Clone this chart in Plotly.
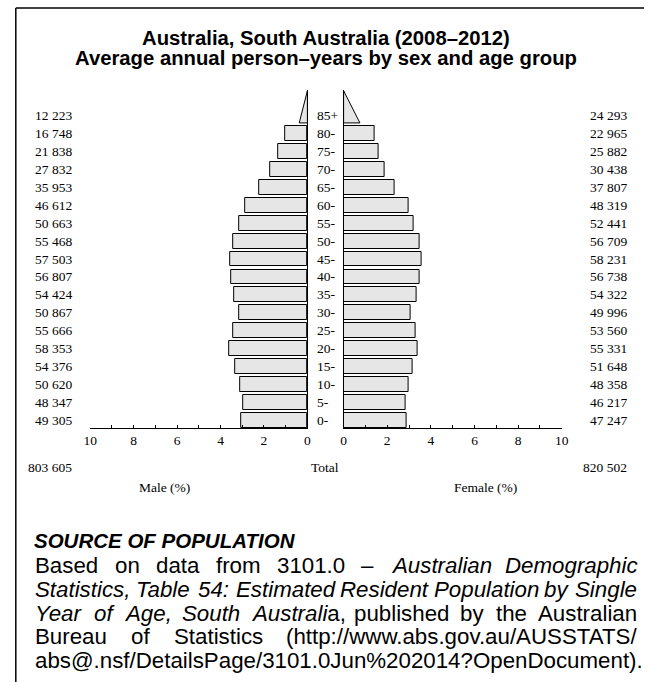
import re
import plotly.graph_objects as go

W, H = 651, 682

ages = ["0-", "5-", "10-", "15-", "20-", "25-", "30-", "35-", "40-",
        "45-", "50-", "55-", "60-", "65-", "70-", "75-", "80-", "85+"]
male_counts = [49305, 48347, 50620, 54376, 58353, 55666, 50867, 54424, 56807,
               57503, 55468, 50663, 46612, 35953, 27832, 21838, 16748, 12223]
female_counts = [47247, 46217, 48358, 51648, 55331, 53560, 49996, 54322, 56738,
                 58231, 56709, 52441, 48319, 37807, 30438, 25882, 22965, 24293]
male_total = 803605
female_total = 820502
tick_vals = [0, 2, 4, 6, 8, 10]

grand = male_total + female_total
male_pct = [c / grand * 100 for c in male_counts]
female_pct = [c / grand * 100 for c in female_counts]
rows = list(range(len(ages)))


def px(x):
    return x / W


def py(y):
    return 1 - y / H


def fmt(v):
    return f"{v:,}".replace(",", " ")


SERIF = "Liberation Serif"
SANS = "Liberation Sans"
FILL = "#e6e6e6"
BW = 0.83
YR = [-0.418, 18.42]

fig = go.Figure()

n_bar = len(ages) - 1
fig.add_trace(go.Bar(orientation="h", x=male_pct[:n_bar], y=rows[:n_bar], width=BW,
                     marker=dict(color=FILL, line=dict(color="black", width=1)),
                     xaxis="x", yaxis="y", showlegend=False, hoverinfo="skip"))
fig.add_trace(go.Bar(orientation="h", x=female_pct[:n_bar], y=rows[:n_bar], width=BW,
                     marker=dict(color=FILL, line=dict(color="black", width=1)),
                     xaxis="x2", yaxis="y2", showlegend=False, hoverinfo="skip"))

# open-ended 85+ group drawn as a triangle
top_row = rows[-1]
base_y = top_row - BW / 2
apex_y = top_row + 1.38
for pct, xa, ya in [(male_pct[-1], "x", "y"), (female_pct[-1], "x2", "y2")]:
    fig.add_trace(go.Scatter(x=[0, pct * 0.5, 0, 0], y=[base_y, base_y, apex_y, base_y],
                             mode="lines", fill="toself", fillcolor=FILL,
                             line=dict(color="black", width=1), xaxis=xa, yaxis=ya,
                             showlegend=False, hoverinfo="skip", cliponaxis=False))

tickfont = dict(family=SERIF, size=13.5, color="black")
xcommon = dict(showgrid=False, zeroline=False, showline=True, linecolor="black",
               linewidth=1, ticks="inside", ticklen=3, tickcolor="black",
               tickvals=tick_vals, ticktext=[str(v) for v in tick_vals], tickfont=tickfont,
               minor=dict(dtick=1, ticks="inside", ticklen=3, tickcolor="black", showgrid=False))
ycommon = dict(range=YR, showgrid=False, zeroline=False, showline=True, linecolor="black",
               linewidth=1, ticks="", showticklabels=False)

ydom = [py(428), py(90)]
fig.update_layout(
    width=W, height=H, margin=dict(l=0, r=0, t=0, b=0), autosize=False,
    paper_bgcolor="white", plot_bgcolor="white", bargap=0,
    xaxis=dict(**xcommon, range=[10, 0], domain=[px(85), px(307)], anchor="y"),
    xaxis2=dict(**xcommon, range=[0, 10], domain=[px(344), px(567)], anchor="y2"),
    yaxis=dict(**ycommon, domain=ydom, anchor="x", side="right"),
    yaxis2=dict(**ycommon, domain=ydom, anchor="x2", side="left"),
)

ann = []
lab = dict(family=SERIF, size=13.5, color="black")
for i, a in enumerate(ages):
    ann.append(dict(x=px(68), y=rows[i], xref="paper", yref="y", text=fmt(male_counts[i]),
                    xanchor="right", yanchor="middle", showarrow=False, font=lab))
    ann.append(dict(x=px(636), y=rows[i], xref="paper", yref="y", text=fmt(female_counts[i]),
                    xanchor="right", yanchor="middle", showarrow=False, font=lab))
    ann.append(dict(x=px(315), y=rows[i], xref="paper", yref="y", text=a,
                    xanchor="left", yanchor="middle", showarrow=False, font=lab))

ann.append(dict(x=px(68), y=py(468), xref="paper", yref="paper", text=fmt(male_total),
                xanchor="right", yanchor="middle", showarrow=False, font=lab))
ann.append(dict(x=px(636), y=py(468), xref="paper", yref="paper", text=fmt(female_total),
                xanchor="right", yanchor="middle", showarrow=False, font=lab))
ann.append(dict(x=px(325), y=py(468), xref="paper", yref="paper", text="Total",
                xanchor="center", yanchor="middle", showarrow=False, font=lab))
ann.append(dict(x=px(161), y=py(487), xref="paper", yref="paper", text="Male (%)",
                xanchor="center", yanchor="middle", showarrow=False, font=lab))
ann.append(dict(x=px(489), y=py(487), xref="paper", yref="paper", text="Female (%)",
                xanchor="center", yanchor="middle", showarrow=False, font=lab))

tfont = dict(family=SANS, size=20.3, color="black")
ann.append(dict(x=px(326), y=py(38), xref="paper", yref="paper",
                text="<b>Australia, South Australia (2008–2012)</b>",
                xanchor="center", yanchor="middle", showarrow=False, font=tfont))
ann.append(dict(x=px(326), y=py(58), xref="paper", yref="paper",
                text="<b>Average annual person–years by sex and age group</b>",
                xanchor="center", yanchor="middle", showarrow=False, font=tfont))

ann.append(dict(x=px(26), y=py(540), xref="paper", yref="paper",
                text="<b><i>SOURCE OF POPULATION</i></b>",
                xanchor="left", yanchor="middle", showarrow=False,
                font=dict(family=SANS, size=20.5, color="black")))

# Arial / Liberation Sans advance widths (per 1000 em) used to justify the source text
AW = {}
AW.update({c: w for c, w in zip("abcdefghijklmnopqrstuvwxyz",
          [556, 556, 500, 556, 556, 278, 556, 556, 222, 222, 500, 222, 833, 556, 556, 556,
           556, 333, 500, 278, 556, 500, 722, 500, 500, 500])})
AW.update({c: w for c, w in zip("ABCDEFGHIJKLMNOPQRSTUVWXYZ",
          [667, 667, 722, 722, 667, 611, 778, 722, 278, 500, 667, 556, 833, 722, 778, 667,
           778, 722, 667, 611, 722, 667, 944, 667, 667, 611])})
AW.update({c: 556 for c in "0123456789"})
AW.update({" ": 278, ",": 278, ".": 278, ":": 278, "–": 556, "(": 333, ")": 333,
           "/": 278, "@": 1015, "%": 889, "?": 556})

BODY = 22.3
LX, RX = 27, 640


def text_w(s, size):
    plain = re.sub(r"<[^>]+>", "", s)
    return sum(AW.get(c, 556) for c in plain) * size / 1000


sfont = dict(family=SANS, size=BODY, color="black")
source_lines = [
    (565, True, ["Based", "on", "data", "from", "3101.0", "–", "<i>Australian</i>",
                 "<i>Demographic</i>"]),
    (589, True, ["<i>Statistics,</i>", "<i>Table</i>", "<i>54:</i>", "<i>Estimated</i>",
                 "<i>Resident</i>", "<i>Population</i>", "<i>by</i>", "<i>Single</i>"]),
    (613, True, ["<i>Year</i>", "<i>of</i>", "<i>Age,</i>", "<i>South</i>",
                 "<i>Australi</i>a,", "published", "by", "the", "Australian"]),
    (636, True, ["Bureau", "of", "Statistics", "(http://www.abs.gov.au/AUSSTATS/"]),
    (660, False, ["abs@.nsf/DetailsPage/3101.0Jun%202014?OpenDocument)."]),
]
for yy, justify, words in source_lines:
    if justify and len(words) > 1:
        widths = [text_w(w, BODY) for w in words]
        gap = (RX - LX - sum(widths)) / (len(words) - 1)
        xcur = LX
        for w, wd in zip(words, widths):
            ann.append(dict(x=px(xcur), y=py(yy), xref="paper", yref="paper", text=w,
                            xanchor="left", yanchor="middle", showarrow=False, font=sfont))
            xcur += wd + gap
    else:
        ann.append(dict(x=px(LX), y=py(yy), xref="paper", yref="paper", text=" ".join(words),
                        xanchor="left", yanchor="middle", showarrow=False, font=sfont))

fig.update_layout(annotations=ann)

# frame (top and left edges)
fig.add_shape(type="line", xref="paper", yref="paper", x0=px(9), x1=1, y0=py(8), y1=py(8),
              line=dict(color="black", width=1.5))
fig.add_shape(type="line", xref="paper", yref="paper", x0=px(9), x1=px(9), y0=py(8), y1=0,
              line=dict(color="black", width=1.5))

post = (
    "var de=document.documentElement, b=document.body;"
    "de.style.margin='0';de.style.padding='0';de.style.overflow='hidden';"
    "b.style.margin='0';b.style.padding='0';b.style.overflow='hidden';"
    "var gd=document.getElementById('{plot_id}');"
    "Plotly.relayout(gd,{width:%d,height:%d});"
) % (W, H)
fig.write_html("out.html", config={"responsive": False, "displayModeBar": False},
               post_script=post)
